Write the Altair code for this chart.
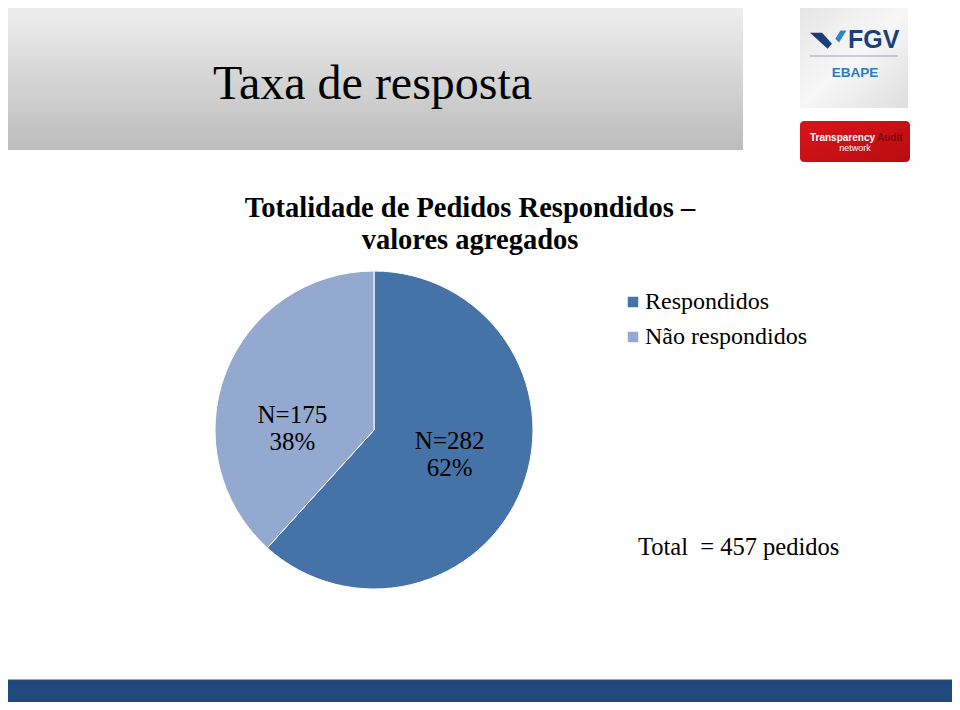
import altair as alt
import pandas as pd

# ---- data ----
categories = ["Respondidos", "Não respondidos"]
counts = [282, 175]
percents = [62, 38]
slice_colors = ["#4572a7", "#93a9cf"]
total = 457

slide_title = "Taxa de resposta"
chart_title = ["Totalidade de Pedidos Respondidos –", "valores agregados"]
total_text = "Total\u00a0\u00a0= 457 pedidos"

pie_df = pd.DataFrame({
    "categoria": categories,
    "n": counts,
    "pct": percents,
    "ordem": [0, 1],
})
pie_df["label"] = ["N=%d\n%d%%" % (n, p) for n, p in zip(counts, percents)]
pie_df["start"] = pie_df["n"].cumsum() - pie_df["n"]
pie_df["end"] = pie_df["n"].cumsum()

W, H = 944, 694
OX, OY = 8, 8  # page margin offset


def px(v):
    return v - OX


def py(v):
    return v - OY


one = pd.DataFrame({"a": [0]})
serif = "Liberation Serif"
sans = "Liberation Sans"

# ---- decorations ----
title_box = alt.Chart(one).mark_rect(
    color={
        "x1": 0, "y1": 0, "x2": 0, "y2": 1, "gradient": "linear",
        "stops": [{"offset": 0, "color": "#eeeeee"}, {"offset": 1, "color": "#bcbcbc"}],
    }
).encode(x=alt.value(0), x2=alt.value(px(743)), y=alt.value(0), y2=alt.value(py(150)))

title_txt = alt.Chart(one).mark_text(
    text=slide_title, font=serif, fontSize=48, align="left", baseline="alphabetic", color="#000000"
).encode(x=alt.value(px(213)), y=alt.value(py(99)))

fgv_box = alt.Chart(one).mark_rect(
    color={
        "x1": 0, "y1": 0, "x2": 1, "y2": 1, "gradient": "linear",
        "stops": [{"offset": 0, "color": "#e6e6e6"}, {"offset": 0.5, "color": "#f7f7f7"},
                  {"offset": 1, "color": "#dedede"}],
    }
).encode(x=alt.value(px(800)), x2=alt.value(px(908)), y=alt.value(0), y2=alt.value(py(108)))

chev_dark = alt.Chart(one).mark_point(
    shape="M -1 -0.65 L 0.1 -0.65 L 1 0.35 L 0.6 0.8 Z", filled=True, opacity=1,
    color="#1c3f7a", size=484
).encode(x=alt.value(px(821)), y=alt.value(py(40)))

chev_light = alt.Chart(one).mark_point(
    shape="M 0.2 -1 L 1 -1 L 0 0.6 L -0.5 0.1 Z", filled=True, opacity=1,
    color="#2f86c8", size=225
).encode(x=alt.value(px(839)), y=alt.value(py(38)))

fgv_txt = alt.Chart(one).mark_text(
    text="FGV", font=sans, fontSize=25, fontWeight="bold", align="left", baseline="alphabetic",
    color="#1c3f7a"
).encode(x=alt.value(px(848)), y=alt.value(py(48)))

fgv_line = alt.Chart(one).mark_rule(color="#9aa4b0", strokeWidth=1).encode(
    x=alt.value(px(810)), x2=alt.value(px(898)), y=alt.value(py(56))
)

ebape_txt = alt.Chart(one).mark_text(
    text="EBAPE", font=sans, fontSize=13.5, fontWeight="bold", align="center", baseline="alphabetic",
    color="#2b7cc1"
).encode(x=alt.value(px(855)), y=alt.value(py(77)))

red_box = alt.Chart(one).mark_rect(
    cornerRadius=4,
    color={
        "x1": 0, "y1": 0, "x2": 1, "y2": 1, "gradient": "linear",
        "stops": [{"offset": 0, "color": "#d8141a"}, {"offset": 1, "color": "#b80d12"}],
    }
).encode(x=alt.value(px(800)), x2=alt.value(px(910)), y=alt.value(py(121)), y2=alt.value(py(162)))

transp_txt = alt.Chart(one).mark_text(
    text="Transparency", font=sans, fontSize=10, fontWeight="bold", align="left", baseline="alphabetic",
    color="#ffffff"
).encode(x=alt.value(px(810)), y=alt.value(py(141)))

audit_txt = alt.Chart(one).mark_text(
    text="Audit", font=sans, fontSize=10, fontWeight="bold", align="left", baseline="alphabetic",
    color="#7a0a0c"
).encode(x=alt.value(px(877)), y=alt.value(py(141)))

network_txt = alt.Chart(one).mark_text(
    text="network", font=sans, fontSize=9, align="center", baseline="alphabetic",
    color="#ffffff"
).encode(x=alt.value(px(855)), y=alt.value(py(151)))

chart_title_txt = alt.Chart(one).mark_text(
    text=chart_title, font=serif, fontSize=28.5, fontWeight="bold", align="center",
    baseline="alphabetic", lineHeight=32, color="#000000"
).encode(x=alt.value(px(470)), y=alt.value(py(217)))

total_txt = alt.Chart(one).mark_text(
    text=total_text, font=serif, fontSize=24.5, align="left", baseline="alphabetic", color="#000000"
).encode(x=alt.value(px(638)), y=alt.value(py(555)))

bar = alt.Chart(one).mark_rect(color="#1f497d", stroke="#3a4f66", strokeWidth=1).encode(
    x=alt.value(-OX), x2=alt.value(W + OX), y=alt.value(py(680)), y2=alt.value(py(704))
)

# ---- pie ----
CX, CY, R = px(374), py(430), 159

color_enc = alt.Color(
    "categoria:N",
    scale=alt.Scale(domain=categories, range=slice_colors),
    legend=alt.Legend(
        title=None, orient="none", legendX=px(621), legendY=py(290),
        symbolType="square", symbolSize=110, symbolStrokeWidth=0,
        labelFont=serif, labelFontSize=24, labelColor="#000000",
        rowPadding=11, labelOffset=0, labelLimit=400,
    ),
)

arcs = alt.Chart(pie_df).mark_arc(radius=R, stroke="#ffffff", strokeWidth=1).encode(
    theta=alt.Theta("n:Q", stack=True),
    color=color_enc,
    order=alt.Order("ordem:Q"),
    x=alt.value(CX), y=alt.value(CY),
)

theta_mid = alt.Theta("mid:Q", scale=alt.Scale(domain=[0, total], range=[0, 6.283185307179586]))


def label_layer(idx, dx, dy):
    return alt.Chart(pie_df).transform_calculate(
        mid="(datum.start + datum.end) / 2"
    ).transform_filter(alt.datum.ordem == idx).mark_text(
        radius=80, font=serif, fontSize=25, lineBreak="\n", lineHeight=27,
        align="center", baseline="middle", color="#000000", dx=dx, dy=dy,
    ).encode(
        theta=theta_mid,
        text="label:N",
        x=alt.value(CX), y=alt.value(CY),
    )


lab_a = label_layer(0, 1, -18)
lab_b = label_layer(1, -7, 14)

chart = alt.layer(
    title_box, title_txt, fgv_box, chev_dark, chev_light, fgv_txt, fgv_line, ebape_txt,
    red_box, transp_txt, audit_txt, network_txt, chart_title_txt,
    arcs, lab_a, lab_b, total_txt, bar,
).resolve_scale(theta="independent").properties(
    width=W, height=H, padding=0, autosize=alt.AutoSizeParams(type="none"),
    background="#ffffff",
).configure_view(stroke=None)

chart.save("out.html", embed_options={"renderer": "svg", "actions": False})
